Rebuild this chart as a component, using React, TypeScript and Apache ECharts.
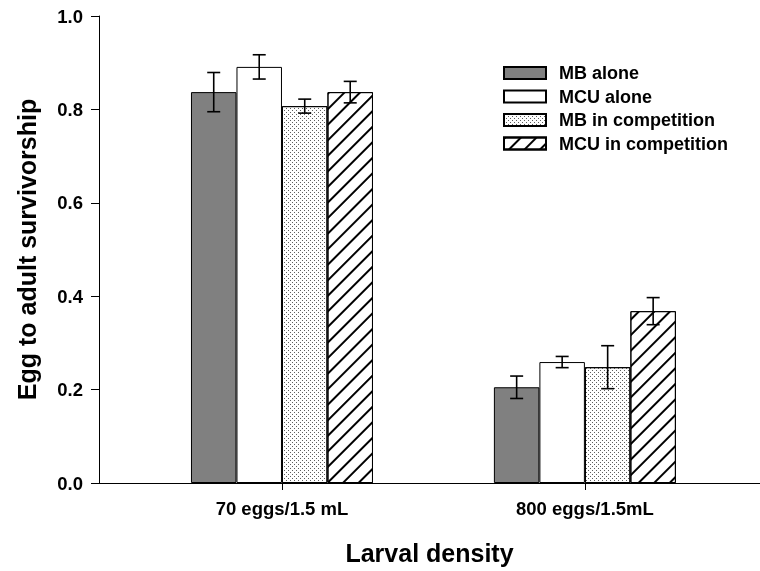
import React, { useEffect, useRef } from "react";
import * as echarts from "echarts";

const categories = ["70 eggs/1.5 mL", "800 eggs/1.5mL"];
const categoryPositions = [1, 2];
const seriesNames = ["MB alone", "MCU alone", "MB in competition", "MCU in competition"];
const means = [
  [0.837, 0.205],
  [0.891, 0.259],
  [0.807, 0.248],
  [0.837, 0.368],
];
const errors = [
  [0.042, 0.024],
  [0.026, 0.012],
  [0.015, 0.046],
  [0.023, 0.029],
];
const yTicks = [0, 0.2, 0.4, 0.6, 0.8, 1.0];

const FONT = "'Liberation Sans', Arial, Helvetica, sans-serif";
const BAR_W = 45.5;

export default function App() {
  const ref = useRef<HTMLDivElement>(null);
  useEffect(() => {
    if (!ref.current) return;
    const chart = echarts.init(ref.current, null, { renderer: "svg" });

    const styles: any[] = [
      { color: "#808080", borderColor: "#000", borderWidth: 1 },
      { color: "#ffffff", borderColor: "#000", borderWidth: 1 },
      {
        color: "#ffffff",
        borderColor: "#000",
        borderWidth: 1,
        decal: {
          symbol: "rect",
          symbolSize: 1,
          color: "#5e5e5e",
          backgroundColor: "#ffffff",
          dashArrayX: [[1, 3], [0, 2, 1, 1]],
          dashArrayY: [1, 1],
          rotation: 0,
        },
      },
      {
        color: "#ffffff",
        borderColor: "#000",
        borderWidth: 1,
        decal: {
          symbol: "rect",
          symbolSize: 1,
          color: "#000000",
          backgroundColor: "#ffffff",
          dashArrayX: [1, 0],
          dashArrayY: [1.3, 8.7],
          rotation: -Math.PI / 4,
        },
      },
    ];

    const barSeries = seriesNames.map((name, i) => ({
      name,
      type: "bar",
      barWidth: BAR_W,
      barGap: "0%",
      itemStyle: styles[i],
      data: categoryPositions.map((x, j) => [x, means[i][j]]),
    }));

    const errData: any[] = [];
    seriesNames.forEach((_, i) => {
      categoryPositions.forEach((x, j) => {
        errData.push([x, means[i][j] - errors[i][j], means[i][j] + errors[i][j], i]);
      });
    });

    const errSeries = {
      type: "custom",
      name: "err",
      data: errData,
      z: 10,
      renderItem: (params: any, api: any) => {
        const x = api.value(0);
        const lo = api.coord([x, api.value(1)]);
        const hi = api.coord([x, api.value(2)]);
        const idx = api.value(3);
        const cx = lo[0] + (idx - 1.5) * BAR_W;
        const cap = 6.5;
        const st = { stroke: "#000", lineWidth: 1.6 };
        return {
          type: "group",
          children: [
            { type: "line", shape: { x1: cx, y1: lo[1], x2: cx, y2: hi[1] }, style: st },
            { type: "line", shape: { x1: cx - cap, y1: lo[1], x2: cx + cap, y2: lo[1] }, style: st },
            { type: "line", shape: { x1: cx - cap, y1: hi[1], x2: cx + cap, y2: hi[1] }, style: st },
          ],
        };
      },
    };

    chart.setOption({
      animation: false,
      textStyle: { fontFamily: FONT },
      grid: { left: 99, top: 16, bottom: 88, right: 0, containLabel: false },
      legend: {
        orient: "vertical",
        left: 498,
        top: 59,
        itemWidth: 42,
        itemHeight: 12,
        itemGap: 5.5,
        icon: "rect",
        data: seriesNames,
        textStyle: {
          fontFamily: FONT,
          fontSize: 18,
          fontWeight: "bold",
          color: "#000",
          padding: [0, 0, 0, 8],
        },
      },
      xAxis: {
        type: "value",
        min: 0.396,
        max: 2.578,
        name: "Larval density",
        nameLocation: "middle",
        nameGap: 57,
        nameTextStyle: { fontFamily: FONT, fontSize: 25, fontWeight: "bold", color: "#000" },
        axisLine: { show: true, lineStyle: { color: "#000", width: 1 } },
        axisTick: { show: true, length: 7, customValues: categoryPositions, lineStyle: { color: "#000" } },
        axisLabel: {
          customValues: categoryPositions,
          margin: 16,
          fontFamily: FONT,
          fontSize: 18.5,
          fontWeight: "bold",
          color: "#000",
          formatter: (v: number) => {
            const k = categoryPositions.indexOf(Math.round(v));
            return k >= 0 ? categories[k] : "";
          },
        },
        splitLine: { show: false },
      },
      yAxis: {
        type: "value",
        min: 0,
        max: 1,
        interval: 0.2,
        name: "Egg to adult survivorship",
        nameLocation: "middle",
        nameGap: 60,
        nameTextStyle: { fontFamily: FONT, fontSize: 25, fontWeight: "bold", color: "#000" },
        axisLine: { show: true, lineStyle: { color: "#000", width: 1 } },
        axisTick: { show: true, length: 8, lineStyle: { color: "#000" } },
        axisLabel: {
          margin: 16,
          fontFamily: FONT,
          fontSize: 18.5,
          fontWeight: "bold",
          color: "#000",
          formatter: (v: number) => {
            const t = yTicks.find((y) => Math.abs(y - v) < 1e-6);
            return (t !== undefined ? t : v).toFixed(1);
          },
        },
        splitLine: { show: false },
      },
      series: [...barSeries, errSeries],
    });
    return () => chart.dispose();
  }, []);
  return (
    <div
      ref={ref}
      style={{ position: "fixed", left: 0, top: 0, width: 760, height: 571 }}
    />
  );
}
